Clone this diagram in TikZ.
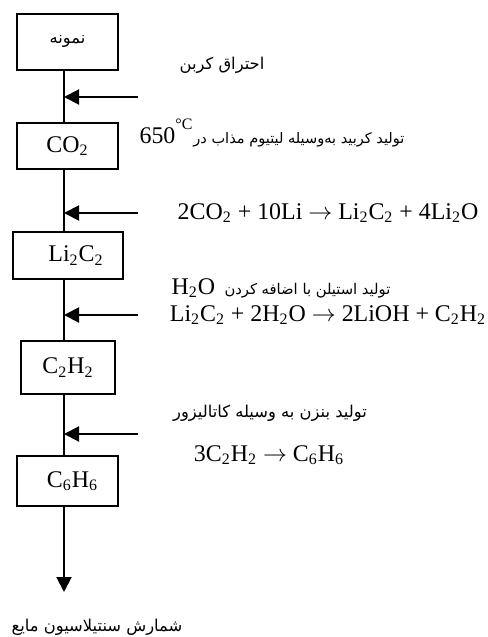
\documentclass[tikz,border=0pt]{standalone}
\usepackage{fontspec}
\setmainfont{Liberation Serif}
\newfontfamily\farsi[Script=Arabic]{DejaVu Sans}
\TeXXeTstate=1
\usetikzlibrary{arrows.meta}
\newcommand\fa[1]{{\farsi\beginR #1\endR}}
\newcommand\sub[1]{\textsubscript{#1}}
\begin{document}
\begin{tikzpicture}[x=.5bp,y=-.5bp,
  stage/.style={draw,line width=1bp,inner sep=0pt,font=\fontsize{12pt}{14pt}\selectfont},
  note/.style={inner sep=0pt,font=\fontsize{12pt}{14pt}\selectfont},
  farsinote/.style={inner sep=0pt,font=\fontsize{8.2pt}{10pt}\selectfont},
  feed/.style={line width=1bp,-{Triangle[length=7.5bp,width=7.5bp]}}]
\useasboundingbox (0,0) rectangle (488,637);
\coordinate (axis) at (64,0);

\node (sample) at (67.5,42) [stage,minimum width=50.5bp,minimum height=28bp,font=\farsi\fontsize{8.2pt}{10pt}\selectfont] {\fa{نمونه}};
\node (co2) at (67.5,146) [stage,minimum width=50.5bp,minimum height=23bp] {CO\sub{2}};
\node (li2c2) at (68,255.5) [stage,minimum width=55bp,minimum height=23.5bp] {\hspace{8bp}Li\sub{2}C\sub{2}};
\node (c2h2) at (68,367.5) [stage,minimum width=47bp,minimum height=26.5bp] {C\sub{2}H\sub{2}};
\node (c6h6) at (67.5,481) [stage,minimum width=50.5bp,minimum height=25bp] {\hspace{5bp}C\sub{6}H\sub{6}};

\draw [line width=1bp] (sample.south -| axis) -- (co2.north -| axis);
\draw [line width=1bp] (co2.south -| axis) -- (li2c2.north -| axis);
\draw [line width=1bp] (li2c2.south -| axis) -- (c2h2.north -| axis);
\draw [line width=1bp] (c2h2.south -| axis) -- (c6h6.north -| axis);

\coordinate (in1) at (138,97);
\coordinate (in2) at (138,213);
\coordinate (in3) at (138,315);
\coordinate (in4) at (138,434);
\coordinate (out) at (64,592);
\draw [feed] (in1) -- (in1 -| axis);
\draw [feed] (in2) -- (in2 -| axis);
\draw [feed] (in3) -- (in3 -| axis);
\draw [feed] (in4) -- (in4 -| axis);
\draw [feed] (c6h6.south -| axis) -- (out);

\node (burn) at (222,65) [farsinote] {\fa{احتراق کربن}};
\node (carbide) at (272,133) [farsinote,font=\fontsize{7.3pt}{10pt}\selectfont] {\fa{تولید کربید به‌وسیله لیتیوم مذاب در\beginL{\rmfamily\fontsize{12pt}{14pt}\selectfont 650\raisebox{2.5bp}{\textsuperscript{°C}}}\endL}};
\node (eqa) at (328,213) [note] {2CO\sub{2} + 10Li $\rightarrow$ Li\sub{2}C\sub{2} + 4Li\sub{2}O};
\node (water) at (281,288) [farsinote,font=\fontsize{7.4pt}{10pt}\selectfont] {\fa{تولید استیلن با اضافه کردن \ \beginL{\rmfamily\fontsize{12pt}{14pt}\selectfont H\sub{2}O}\endL}};
\node (eqb) at (328,315) [note] {Li\sub{2}C\sub{2} + 2H\sub{2}O $\rightarrow$ 2LiOH + C\sub{2}H\sub{2}};
\node (benzene) at (270,413) [farsinote] {\fa{تولید بنزن به وسیله کاتالیزور}};
\node (eqc) at (269,455) [note] {3C\sub{2}H\sub{2} $\rightarrow$ C\sub{6}H\sub{6}};
\node (count) at (97,627) [farsinote] {\fa{شمارش سنتیلاسیون مایع}};
\end{tikzpicture}
\end{document}
